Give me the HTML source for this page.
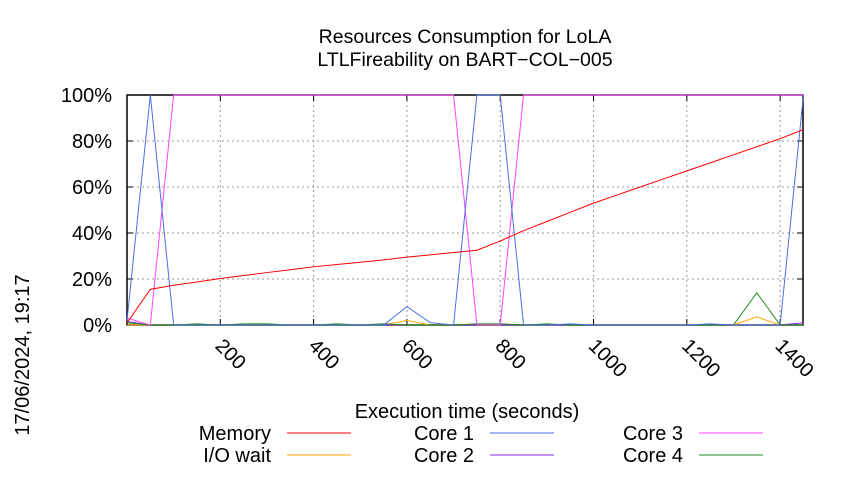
<!DOCTYPE html>
<html><head><meta charset="utf-8"><style>
body{margin:0;background:#fff;}
svg text{font-family:"Liberation Sans",sans-serif;fill:#000;}
</style></head><body>
<svg id="chart" width="850" height="475" viewBox="0 0 850 475" xmlns="http://www.w3.org/2000/svg">
<text x="465" y="43" font-size="19.5" text-anchor="middle">Resources Consumption for LoLA</text>
<text x="465" y="66" font-size="19.5" text-anchor="middle">LTLFireability on BART−COL−005</text>
<g id="grid"></g>
<g id="axes"></g>
<g id="series"></g>
<text x="467" y="418" font-size="20" text-anchor="middle">Execution time (seconds)</text>
<text transform="translate(29,355) rotate(-90)" font-size="20" text-anchor="middle">17/06/2024, 19:17</text>
<g id="legend"></g>
</svg>
<script>
const times=[0,50,100,150,200,250,300,350,400,450,500,550,600,650,700,750,800,850,900,950,1000,1050,1100,1150,1200,1250,1300,1350,1400,1450];
const memory=[1,15.5,17.3,18.7,20.2,21.5,22.8,24,25.3,26.3,27.3,28.3,29.5,30.5,31.5,32.5,36.5,41,45,49,53,56.5,60,63.5,67,70.5,74,77.5,81,85];
const core1=[2,100,0,0,0,0,0,0,0,0,0,0,8,1,0,100,100,0,0,0.5,0,0,0,0,0,0.5,0,0,0,100];
const core3=[3,0,100,100,100,100,100,100,100,100,100,100,100,100,100,0,0,100,100,100,100,100,100,100,100,100,100,100,100,100];
const core2=[1.5,0,0,0,0,0,0,0,0,0,0,0,0,0,0,0,0,0,0,0,0,0,0,0,0,0,0,0,0,1];
const core4=[1,0,0,0.5,0,0.5,0.5,0,0,0.5,0,0.5,0,0,0,0.5,0.5,0,0.5,0,0,0,0,0,0,0,0,14,0,0];
const iowait=[0,0,0,0,0,0,0,0,0,0,0,0,2,0,0,0,0,0,0,0,0,0,0,0,0,0,0,3.5,0,0];
const xTicks=[200,400,600,800,1000,1200,1400];
const yTicks=[0,20,40,60,80,100];
const L=127,R=803,T=95,B=325,XMAX=1449;
const xs=t=>L+(t/XMAX)*(R-L);
const ys=v=>B-(v/100)*(B-T);
const NS='http://www.w3.org/2000/svg';
function mk(tag,attrs,parent){const e=document.createElementNS(NS,tag);for(const k in attrs)e.setAttribute(k,attrs[k]);parent.appendChild(e);return e;}
const grid=document.getElementById('grid'),axes=document.getElementById('axes'),series=document.getElementById('series'),legend=document.getElementById('legend');
yTicks.forEach(v=>{
 const y=ys(v);
 if(v>0&&v<100){const g=mk('line',{x1:L,x2:R,y1:y,y2:y,stroke:'#999','stroke-dasharray':'2,3','stroke-width':1},grid);
 
 }
 const t=mk('text',{x:112,y:y+7,'font-size':20,'text-anchor':'end'},axes);t.textContent=v+'%';
 
 
 mk('line',{x1:L,x2:L+6,y1:y,y2:y,stroke:'#000'},axes);
 mk('line',{x1:R-6,x2:R,y1:y,y2:y,stroke:'#000'},axes);
});
xTicks.forEach(v=>{
 const x=xs(v);
 const g=mk('line',{x1:x,x2:x,y1:T,y2:B,stroke:'#999','stroke-dasharray':'2,3','stroke-width':1},grid);
 
 
 mk('line',{x1:x,x2:x,y1:B,y2:B-6,stroke:'#000'},axes);
 mk('line',{x1:x,x2:x,y1:T,y2:T+6,stroke:'#000'},axes);
 const t=mk('text',{transform:`translate(${x-6},${B+22}) rotate(45)`,'font-size':20},axes);t.textContent=v;
 
 
});
const frame=mk('rect',{x:L,y:T,width:R-L,height:B-T,fill:'none',stroke:'#000','stroke-width':1.5},axes);


const defs=[
 ['Memory',memory,'#ff0000','memory-line'],
 ['Core 1',core1,'#4a6fe3','core1-line'],
 ['Core 3',core3,'#ff44ff','core3-line'],
 ['I/O wait',iowait,'#ffa500','iowait-line'],
 ['Core 2',core2,'#8a2be2','core2-line'],
 ['Core 4',core4,'#228b22','core4-line']];
const order=[3,4,5,2,1,0];
order.forEach(i=>{const d=defs[i];
 const p=mk('polyline',{points:d[1].map((v,j)=>xs(times[j])+','+ys(v)).join(' '),fill:'none',stroke:d[2],'stroke-width':1},series);
 
 
});
const legPos=[[271,433],[474,433],[683,433],[271,455],[474,455],[683,455]];
defs.forEach((d,i)=>{const [x,y]=legPos[i];
 const t=mk('text',{x:x,y:y+7,'font-size':20,'text-anchor':'end'},legend);t.textContent=d[0];
 
 
 const l=mk('line',{x1:x+16,x2:x+80,y1:y,y2:y,stroke:d[2]},legend);
 
 
});
</script>
</body></html>
